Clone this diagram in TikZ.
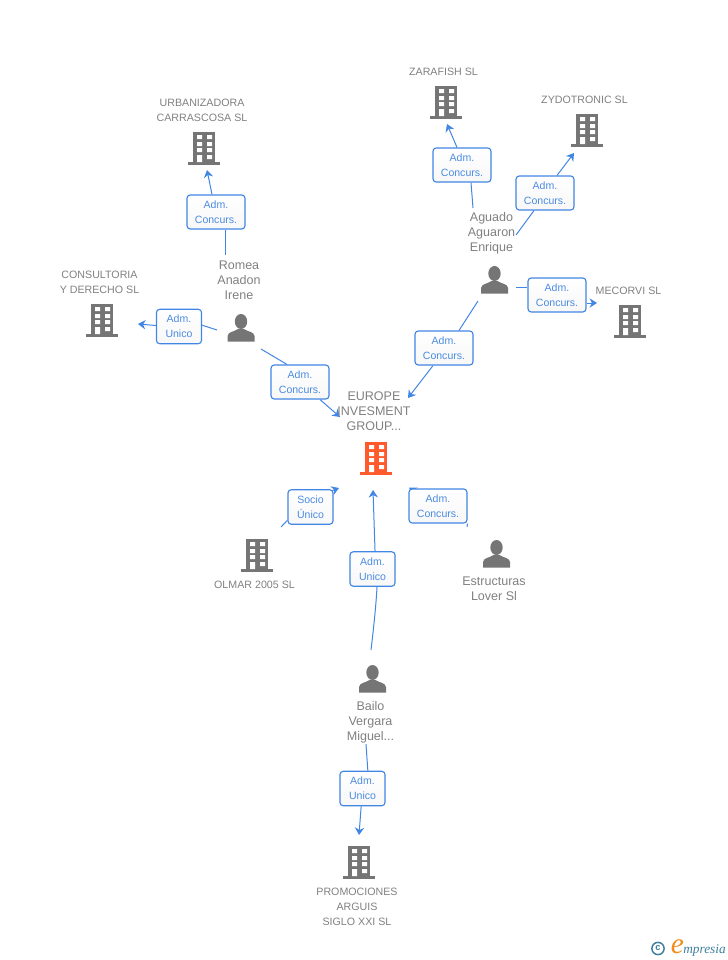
\documentclass[tikz,border=0pt]{standalone}
\usepackage{fontspec}
\setmainfont{Liberation Sans}
\usetikzlibrary{arrows.meta,backgrounds}
\definecolor{linkblue}{HTML}{4286E4}
\definecolor{txtblue}{HTML}{4A8BE2}
\definecolor{icongray}{HTML}{757575}
\definecolor{labgray}{HTML}{808080}
\definecolor{hotorange}{HTML}{FF5A2B}
\definecolor{logoteal}{HTML}{3D7F9C}
\definecolor{logoorange}{HTML}{F28C1E}
\tikzset{
  rolebox/.style={draw=linkblue,line width=0.85pt,rounded corners=2.4pt,top color=white,bottom color=black!3,
    inner sep=0pt,text=txtblue,font=\fontsize{7.9}{11.25}\selectfont,align=center},
  wide/.style={rolebox,minimum width=43.5pt,minimum height=25.5pt},
  slim/.style={rolebox,minimum width=33.8pt,minimum height=25.8pt},
  link/.style={draw=linkblue,line width=0.75pt},
  linkarrow/.style={link,-{Stealth[length=5.6pt,width=7pt]}},
  smalllab/.style={text=labgray,font=\fontsize{8}{11.25}\selectfont,align=center,inner sep=0pt},
  biglab/.style={text=labgray,font=\fontsize{9.4}{11.25}\selectfont,align=center,inner sep=0pt},
  holder/.style={minimum width=24pt,minimum height=25pt,inner sep=0pt}
}
\newcommand{\building}[4]{%
  \node[holder] (#1) at (#2,#3) {};
  \begin{scope}[shift={(#2,#3)}]
    \fill[#4] (-11,-16.5) rectangle (11,15);
    \fill[#4] (-16,14) rectangle (16,16.5);
    \fill[white] (-7,-13) rectangle (-2,-9) (3,-13) rectangle (8,-9)
      (-7,-6) rectangle (-2,-2) (3,-6) rectangle (8,-2)
      (-7,0) rectangle (-2,4) (3,0) rectangle (8,4)
      (-7,7) rectangle (-2,14) (3,7) rectangle (8,11);
  \end{scope}}
\newcommand{\person}[3]{%
  \node[holder,minimum width=20pt,minimum height=20pt] (#1) at (#2,#3) {};
  \begin{scope}[shift={(#2,#3)}]
    \fill[icongray] (0,-6.5) ellipse (6.2 and 7.5);
    \fill[icongray] (-13.5,13.5) -- (-13.5,8) .. controls (-13,3.5) and (-7,4) .. (-3,1) -- (3,1)
      .. controls (7,4) and (13,3.5) .. (13.5,8) -- (13.5,13.5) -- cycle;
  \end{scope}}
\begin{document}
\begin{tikzpicture}[x=0.75pt,y=-0.75pt]
\useasboundingbox (0,0) rectangle (728,960);

% role boxes
\node[wide] (bUrb) at (216,212) {Adm.\\Concurs.};
\node[slim] (bCon) at (179,326.5) {Adm.\\Unico};
\node[wide] (bRomEur) at (300,382) {Adm.\\Concurs.};
\node[wide] (bZar) at (462,165) {Adm.\\Concurs.};
\node[wide] (bZyd) at (545,193) {Adm.\\Concurs.};
\node[wide] (bMec) at (557,295) {Adm.\\Concurs.};
\node[wide] (bAguEur) at (444,348) {Adm.\\Concurs.};
\node[slim] (bSoc) at (310.5,507) {Socio\\Único};
\node[slim] (bBaiEur) at (372.5,569) {Adm.\\Unico};
\node[wide] (bEst) at (438,506) {Adm.\\Concurs.};
\node[slim] (bBaiPro) at (362.5,788.5) {Adm.\\Unico};

% icons
\building{nEur}{376}{458}{hotorange}
\building{nUrb}{204}{148}{icongray}
\building{nCon}{102}{320}{icongray}
\building{nZar}{446}{102}{icongray}
\building{nZyd}{587}{130}{icongray}
\building{nMec}{630}{321}{icongray}
\building{nOlm}{257}{555}{icongray}
\building{nPro}{359}{862}{icongray}
\person{pRom}{241}{328}
\person{pAgu}{494.5}{280}
\person{pEst}{496.5}{554}
\person{pBai}{372.5}{679}

% labels
\node[biglab] (lEur) at (374,411.5) {EUROPE\\INVESMENT\\GROUP...};
\node[smalllab] (lUrb) at (202,110.5) {URBANIZADORA\\CARRASCOSA SL};
\node[smalllab] (lCon) at (99.5,282.5) {CONSULTORIA\\Y DERECHO SL};
\node[smalllab] (lZar) at (443.5,72) {ZARAFISH SL};
\node[smalllab] (lZyd) at (584.5,100) {ZYDOTRONIC SL};
\node[smalllab] (lMec) at (628.5,291) {MECORVI SL};
\node[smalllab] (lOlm) at (254.5,585) {OLMAR 2005 SL};
\node[smalllab] (lPro) at (357,907) {PROMOCIONES\\ARGUIS\\SIGLO XXI SL};
\node[biglab] (lRom) at (239,280) {Romea\\Anadon\\Irene};
\node[biglab] (lAgu) at (491.5,233) {Aguado\\Aguaron\\Enrique};
\node[biglab] (lEst) at (494,589) {Estructuras\\Lover Sl};
\node[biglab] (lBai) at (370.5,722) {Bailo\\Vergara\\Miguel...};

% free ends of connectors
\coordinate (sRomUrb) at (225,255);
\coordinate (tUrb) at (207,170);
\coordinate (sRomCon) at (217,330);
\coordinate (tCon) at (138,324);
\coordinate (sRomEur) at (261,349);
\coordinate (tRomEur) at (340,417);
\coordinate (sAguZar) at (473,208);
\coordinate (tZar) at (447,124);
\coordinate (sAguZyd) at (516,235);
\coordinate (tZyd) at (574,153);
\coordinate (sAguMec) at (516,287);
\coordinate (tMec) at (597,303);
\coordinate (sAguEur) at (478,301);
\coordinate (tAguEur) at (408,398);
\coordinate (sOlm) at (281,527);
\coordinate (tSoc) at (339,488);
\coordinate (sBaiEur) at (371,650);
\coordinate (tBaiEur) at (373,490);
\coordinate (sEst) at (467,527);
\coordinate (tEst) at (409,487.5);
\coordinate (sBaiPro) at (366,744);
\coordinate (tPro) at (359,835);

% connectors, under the boxes
\begin{scope}[on background layer]
\draw[link] (sRomUrb) -- ([xshift=6.75pt]bUrb.south);
\draw[linkarrow] ([xshift=-3pt]bUrb.north) -- (tUrb);
\draw[link] (sRomCon) -- ([yshift=1pt]bCon.east);
\draw[linkarrow] ([yshift=0.75pt]bCon.west) -- (tCon);
\draw[link] (sRomEur) -- ([xshift=-9.75pt]bRomEur.north);
\draw[linkarrow] ([xshift=15pt]bRomEur.south) -- (tRomEur);
\draw[link] (sAguZar) -- ([xshift=6.75pt]bZar.south);
\draw[linkarrow] ([xshift=-3.75pt]bZar.north) -- (tZar);
\draw[link] (sAguZyd) -- ([xshift=-8.25pt]bZyd.south);
\draw[linkarrow] ([xshift=9pt]bZyd.north) -- (tZyd);
\draw[link] (sAguMec) -- ([yshift=6pt]bMec.west);
\draw[linkarrow] ([yshift=-6pt]bMec.east) -- (tMec);
\draw[link] (sAguEur) -- ([xshift=11.25pt]bAguEur.north);
\draw[linkarrow] ([xshift=-8.25pt]bAguEur.south) -- (tAguEur);
\draw[link] (sOlm) -- ([yshift=-10pt]bSoc.west);
\draw[linkarrow] ([xshift=-1pt,yshift=-1pt]bSoc.north east) -- (tSoc);
\draw[link] (sBaiEur) .. controls (374,625) and (376,605) .. ([xshift=3.4pt]bBaiEur.south);
\draw[linkarrow] ([xshift=1.9pt]bBaiEur.north) -- (tBaiEur);
\draw[link] (sEst) -- (bEst.south east);
\draw[linkarrow] (bEst.center) -- (tEst);
\draw[link] (sBaiPro) -- ([xshift=4pt]bBaiPro.north);
\draw[linkarrow] ([xshift=-1pt]bBaiPro.south) -- (tPro);
\end{scope}

% logo
\node[circle,draw=logoteal,line width=1.1pt,minimum size=9.2pt,inner sep=0pt,text=logoteal,font=\bfseries\fontsize{7}{7}\selectfont] (logoC) at (658,948.5) {c};
\node[text=logoorange,inner sep=0pt,font=\fontspec{Liberation Serif}\itshape\fontsize{22}{22}\selectfont] (logoE) at (677.5,947) {e};
\node[text=logoteal,inner sep=0pt,anchor=west,font=\fontspec{Liberation Serif}\itshape\fontsize{10}{10}\selectfont] (logoT) at (683,950) {mpresia};
\end{tikzpicture}
\end{document}
